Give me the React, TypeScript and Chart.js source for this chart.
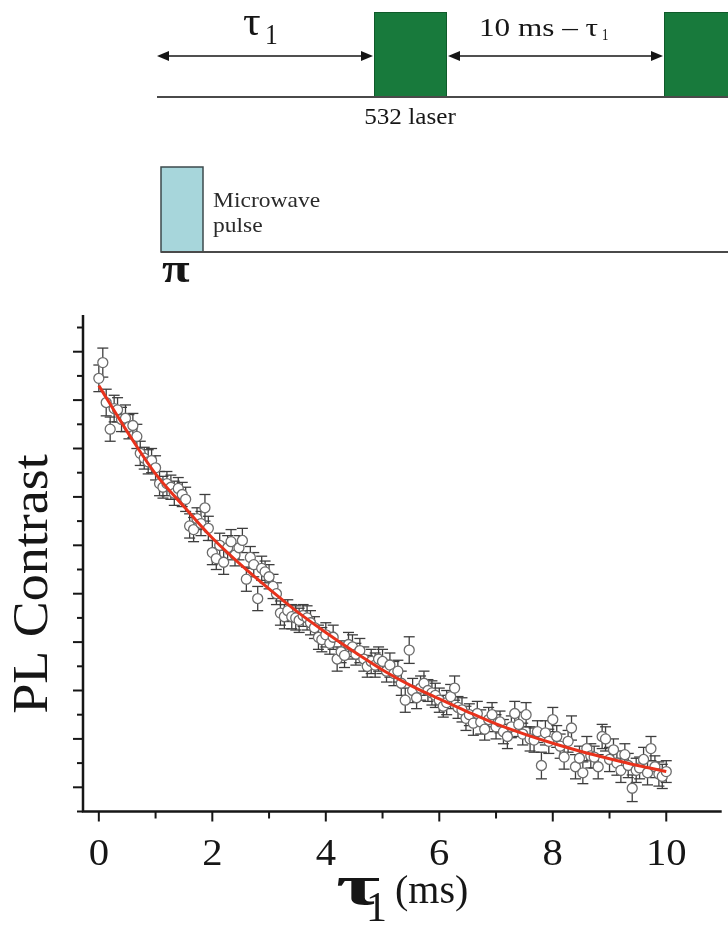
import React, { useEffect, useRef } from 'react';
import { Chart, registerables } from 'chart.js';

Chart.register(...registerables);

// ---------- data ----------
const TAU_MS = [
  0, 0.07, 0.13, 0.2, 0.27, 0.33, 0.4, 0.47, 0.53, 0.6, 0.67, 0.73, 0.8, 0.87, 0.93,
  1.0, 1.07, 1.13, 1.2, 1.27, 1.33, 1.4, 1.47, 1.53, 1.6, 1.67, 1.73, 1.8, 1.87, 1.93,
  2.0, 2.07, 2.13, 2.2, 2.27, 2.33, 2.4, 2.47, 2.53, 2.6, 2.67, 2.73, 2.8, 2.87, 2.93,
  3.0, 3.07, 3.13, 3.2, 3.27, 3.33, 3.4, 3.47, 3.53, 3.6, 3.67, 3.73, 3.8, 3.87, 3.93,
  4.0, 4.07, 4.13, 4.2, 4.27, 4.33, 4.4, 4.47, 4.53, 4.6, 4.67, 4.73, 4.8, 4.87, 4.93,
  5.0, 5.07, 5.13, 5.2, 5.27, 5.33, 5.4, 5.47, 5.53, 5.6, 5.67, 5.73, 5.8, 5.87, 5.93,
  6.0, 6.07, 6.13, 6.2, 6.27, 6.33, 6.4, 6.47, 6.53, 6.6, 6.67, 6.73, 6.8, 6.87, 6.93,
  7.0, 7.07, 7.13, 7.2, 7.27, 7.33, 7.4, 7.47, 7.53, 7.6, 7.67, 7.73, 7.8, 7.87, 7.93,
  8.0, 8.07, 8.13, 8.2, 8.27, 8.33, 8.4, 8.47, 8.53, 8.6, 8.67, 8.73, 8.8, 8.87, 8.93,
  9.0, 9.07, 9.13, 9.2, 9.27, 9.33, 9.4, 9.47, 9.53, 9.6, 9.67, 9.73, 9.8, 9.87, 9.93,
  10.0,
];

const PL_CONTRAST = [
  17.9, 18.55, 16.9, 15.8, 16.65, 16.6, 16.2, 16.25, 15.9, 15.95, 15.5, 14.8, 14.6, 14.45, 14.5,
  14.2, 13.55, 13.4, 13.55, 13.4, 13.15, 13.35, 13.1, 12.9, 11.8, 11.65, 12.1, 11.9, 12.55, 11.7,
  10.7, 10.45, 11.0, 10.3, 10.9, 11.15, 10.6, 10.9, 11.2, 9.6, 10.5, 10.2, 8.8, 10.05, 9.9,
  9.7, 9.3, 9.0, 8.2, 8.05, 8.3, 8.05, 8.0, 7.9, 8.1, 8.0, 7.8, 7.6, 7.2, 7.1,
  7.3, 6.95, 7.2, 6.3, 6.6, 6.45, 6.9, 6.8, 6.5, 6.65, 6.3, 6.0, 6.2, 6.05, 6.3,
  6.2, 5.8, 6.05, 5.7, 5.8, 5.3, 4.6, 6.67, 5.0, 4.7, 5.1, 5.3, 5.0, 4.9, 4.8,
  4.6, 4.35, 4.5, 4.75, 5.1, 4.3, 4.2, 3.85, 4.0, 3.65, 4.05, 3.7, 3.4, 3.8, 4.0,
  3.5, 3.7, 3.3, 3.1, 3.5, 4.05, 3.6, 3.2, 4.0, 3.0, 2.95, 3.3, 1.9, 3.25, 2.9,
  3.8, 3.1, 2.7, 2.25, 2.9, 3.45, 1.85, 2.2, 1.6, 2.6, 2.3, 2.25, 1.85, 3.1, 3.0,
  2.15, 2.55, 2.0, 1.7, 2.35, 1.9, 0.96, 1.7, 1.8, 2.15, 1.6, 2.6, 1.85, 1.55, 1.45,
  1.65,
];

const PL_ERROR = [
  0.55, 0.6, 0.55, 0.5, 0.55, 0.5, 0.5, 0.55, 0.5, 0.5, 0.5, 0.5, 0.45, 0.5, 0.5,
  0.5, 0.5, 0.45, 0.5, 0.5, 0.5, 0.45, 0.5, 0.5, 0.5, 0.5, 0.45, 0.5, 0.55, 0.5,
  0.5, 0.45, 0.5, 0.5, 0.5, 0.5, 0.45, 0.5, 0.5, 0.5, 0.45, 0.5, 0.5, 0.5, 0.45,
  0.5, 0.5, 0.45, 0.5, 0.5, 0.45, 0.5, 0.5, 0.5, 0.45, 0.5, 0.5, 0.45, 0.5, 0.5,
  0.5, 0.45, 0.5, 0.5, 0.45, 0.5, 0.5, 0.5, 0.45, 0.5, 0.5, 0.45, 0.5, 0.5, 0.5,
  0.5, 0.45, 0.5, 0.5, 0.45, 0.5, 0.5, 0.55, 0.5, 0.45, 0.5, 0.5, 0.45, 0.5, 0.5,
  0.5, 0.45, 0.5, 0.5, 0.5, 0.45, 0.5, 0.5, 0.45, 0.5, 0.5, 0.5, 0.45, 0.5, 0.5,
  0.5, 0.45, 0.5, 0.5, 0.45, 0.5, 0.5, 0.45, 0.5, 0.5, 0.5, 0.45, 0.55, 0.5, 0.5,
  0.5, 0.45, 0.5, 0.5, 0.45, 0.5, 0.5, 0.5, 0.45, 0.5, 0.5, 0.45, 0.5, 0.5, 0.5,
  0.5, 0.45, 0.5, 0.5, 0.45, 0.5, 0.55, 0.5, 0.45, 0.5, 0.5, 0.5, 0.45, 0.5, 0.5,
  0.45,
];

// exponential fit curve
const FIT_TAU = [0, 0.5, 1, 1.5, 2, 2.5, 3, 3.5, 4, 4.5, 5, 5.5, 6, 6.5, 7, 7.5, 8, 8.5, 9, 9.5, 10];
const FIT_CONTRAST = [17.6, 15.7, 13.95, 12.6, 11.3, 10.2, 9.2, 8.25, 7.4, 6.6, 5.85, 5.2, 4.65, 4.12, 3.62, 3.2, 2.82, 2.48, 2.18, 1.9, 1.65];

const X_TICKS = [0, 1, 2, 3, 4, 5, 6, 7, 8, 9, 10];
const X_TICK_LABELS = ['0', '', '2', '', '4', '', '6', '', '8', '', '10'];
const Y_TICKS = [0, 1, 2, 3, 4, 5, 6, 7, 8, 9, 10, 11, 12, 13, 14, 15, 16, 17, 18, 19, 20];

const X_TITLE_SYMBOL = 'τ';
const X_TITLE_SUB = '1';
const X_TITLE_UNIT = '(ms)';
const Y_TITLE = 'PL Contrast';

const SERIF = '"Liberation Serif", "Times New Roman", "DejaVu Serif", serif';
const INK = '#161616';

// ---------- helpers ----------
function line(ctx: CanvasRenderingContext2D, x1: number, y1: number, x2: number, y2: number) {
  ctx.beginPath();
  ctx.moveTo(x1, y1);
  ctx.lineTo(x2, y2);
  ctx.stroke();
}

function arrowHead(ctx: CanvasRenderingContext2D, x: number, y: number, dir: number) {
  ctx.beginPath();
  ctx.moveTo(x, y);
  ctx.lineTo(x - dir * 12, y - 5);
  ctx.lineTo(x - dir * 12, y + 5);
  ctx.closePath();
  ctx.fill();
}

function doubleArrow(ctx: CanvasRenderingContext2D, x1: number, x2: number, y: number) {
  ctx.lineWidth = 1.6;
  line(ctx, x1 + 4, y, x2 - 4, y);
  arrowHead(ctx, x1, y, -1);
  arrowHead(ctx, x2, y, 1);
}

function stretchedText(ctx: CanvasRenderingContext2D, text: string, x: number, y: number, sx: number) {
  ctx.save();
  ctx.translate(x, y);
  ctx.scale(sx, 1);
  ctx.fillText(text, 0, 0);
  ctx.restore();
}

// ---------- plugins ----------
const errorBarPlugin = {
  id: 'errorBars',
  beforeDatasetsDraw(chart: any) {
    const { ctx, scales } = chart;
    const x = scales.x;
    const y = scales.y;
    ctx.save();
    ctx.strokeStyle = '#3e3e3e';
    ctx.lineWidth = 1.3;
    TAU_MS.forEach((t, i) => {
      const px = x.getPixelForValue(t);
      const yt = y.getPixelForValue(PL_CONTRAST[i] + PL_ERROR[i]);
      const yb = y.getPixelForValue(PL_CONTRAST[i] - PL_ERROR[i]);
      line(ctx, px, yt, px, yb);
      line(ctx, px - 5.5, yt, px + 5.5, yt);
      line(ctx, px - 5.5, yb, px + 5.5, yb);
    });
    ctx.restore();
  },
};

const axesPlugin = {
  id: 'paperAxes',
  afterDraw(chart: any) {
    const { ctx, chartArea: ca, scales } = chart;
    const x = scales.x;
    const y = scales.y;
    ctx.save();
    ctx.strokeStyle = INK;
    ctx.fillStyle = INK;
    ctx.lineWidth = 2.5;
    ctx.beginPath();
    ctx.moveTo(ca.left, ca.top);
    ctx.lineTo(ca.left, ca.bottom);
    ctx.lineTo(ca.right, ca.bottom);
    ctx.stroke();

    ctx.lineWidth = 2;
    X_TICKS.forEach((v, i) => {
      const px = x.getPixelForValue(v);
      const len = X_TICK_LABELS[i] ? 10 : 7;
      line(ctx, px, ca.bottom, px, ca.bottom + len);
    });
    Y_TICKS.forEach((v) => {
      const py = y.getPixelForValue(v);
      const len = v % 2 === 1 ? 10 : 6;
      line(ctx, ca.left - len, py, ca.left, py);
    });

    // tick labels
    ctx.font = `37px ${SERIF}`;
    ctx.textAlign = 'center';
    ctx.textBaseline = 'alphabetic';
    X_TICKS.forEach((v, i) => {
      if (X_TICK_LABELS[i]) {
        stretchedText(ctx, X_TICK_LABELS[i], x.getPixelForValue(v), ca.bottom + 53, 1.1);
      }
    });

    // x title
    ctx.textAlign = 'left';
    ctx.font = `bold 58px ${SERIF}`;
    stretchedText(ctx, X_TITLE_SYMBOL, 336, 904, 1.65);
    ctx.font = `42px ${SERIF}`;
    stretchedText(ctx, X_TITLE_SUB, 366, 921, 1.0);
    ctx.font = `40px ${SERIF}`;
    stretchedText(ctx, X_TITLE_UNIT, 395, 903, 1.0);

    // y title
    ctx.save();
    ctx.translate(47, 584);
    ctx.rotate(-Math.PI / 2);
    ctx.scale(1.08, 1);
    ctx.textAlign = 'center';
    ctx.font = `50px ${SERIF}`;
    ctx.fillText(Y_TITLE, 0, 0);
    ctx.restore();

    ctx.restore();
  },
};

const diagramPlugin = {
  id: 'pulseDiagram',
  afterDraw(chart: any) {
    const ctx: CanvasRenderingContext2D = chart.ctx;
    ctx.save();

    // laser row
    ctx.fillStyle = '#187a3c';
    ctx.strokeStyle = '#0f5a2a';
    ctx.lineWidth = 1;
    ctx.fillRect(374, 12, 73, 85);
    ctx.strokeRect(374.5, 12.5, 72, 84);
    ctx.fillRect(664, 12, 70, 85);
    ctx.strokeRect(664.5, 12.5, 70, 84);

    ctx.strokeStyle = '#4a4a4a';
    ctx.lineWidth = 2;
    line(ctx, 157, 97, 728, 97);

    ctx.strokeStyle = INK;
    ctx.fillStyle = INK;
    doubleArrow(ctx, 157, 373, 56);
    doubleArrow(ctx, 448, 663, 56);

    ctx.textBaseline = 'alphabetic';
    ctx.textAlign = 'left';
    ctx.font = `40px ${SERIF}`;
    stretchedText(ctx, 'τ', 243, 35, 1.1);
    ctx.font = `30px ${SERIF}`;
    stretchedText(ctx, '1', 265, 44, 0.85);

    ctx.font = `26px ${SERIF}`;
    stretchedText(ctx, '10 ms – τ', 479, 36, 1.2);
    ctx.font = `16px ${SERIF}`;
    stretchedText(ctx, '1', 602, 40, 0.8);

    ctx.font = `24px ${SERIF}`;
    ctx.textAlign = 'center';
    stretchedText(ctx, '532 laser', 410, 124, 1.05);

    // microwave row
    ctx.fillStyle = '#a7d6db';
    ctx.fillRect(161, 167, 42, 85);
    ctx.strokeStyle = '#3d4a4c';
    ctx.lineWidth = 1.5;
    ctx.strokeRect(161, 167, 42, 85);
    ctx.strokeStyle = '#4a4a4a';
    ctx.lineWidth = 2;
    line(ctx, 161, 252, 728, 252);

    ctx.fillStyle = '#2a2a2a';
    ctx.textAlign = 'left';
    ctx.font = `21px ${SERIF}`;
    stretchedText(ctx, 'Microwave', 213, 207, 1.12);
    stretchedText(ctx, 'pulse', 213, 232, 1.12);

    ctx.fillStyle = INK;
    ctx.font = `bold 42px ${SERIF}`;
    stretchedText(ctx, 'π', 162, 282, 1.2);

    ctx.restore();
  },
};

// ---------- component ----------
export default function App() {
  const canvasRef = useRef<HTMLCanvasElement | null>(null);

  useEffect(() => {
    const canvas = canvasRef.current;
    if (!canvas) return;
    const points = TAU_MS.map((t, i) => ({ x: t, y: PL_CONTRAST[i] }));
    const fit = FIT_TAU.map((t, i) => ({ x: t, y: FIT_CONTRAST[i] }));

    const chart = new Chart(canvas, {
      type: 'scatter',
      data: {
        datasets: [
          {
            label: 'fit',
            data: fit,
            showLine: true,
            borderColor: '#e8321c',
            borderWidth: 3,
            pointRadius: 0,
            cubicInterpolationMode: 'monotone',
            order: 0,
          } as any,
          {
            label: 'PL contrast',
            data: points,
            showLine: false,
            pointStyle: 'circle',
            pointRadius: 5,
            borderWidth: 1.3,
            borderColor: '#6c6c6c',
            backgroundColor: '#ffffff',
            order: 1,
          } as any,
        ],
      },
      options: {
        animation: false,
        responsive: false,
        devicePixelRatio: 1,
        events: [],
        layout: { padding: { left: 83, right: 0, top: 315, bottom: 114.5 } },
        plugins: {
          legend: { display: false },
          tooltip: { enabled: false },
        },
        scales: {
          x: { type: 'linear', min: -0.279, max: 10.977, display: false },
          y: { type: 'linear', min: 0, max: 20.517, display: false },
        },
      },
      plugins: [errorBarPlugin, axesPlugin, diagramPlugin],
    });

    return () => chart.destroy();
  }, []);

  return (
    <div style={{ position: 'absolute', left: 0, top: 0, width: 728, height: 926, background: '#ffffff' }}>
      <canvas ref={canvasRef} width={728} height={926} style={{ width: 728, height: 926, display: 'block' }} />
    </div>
  );
}
